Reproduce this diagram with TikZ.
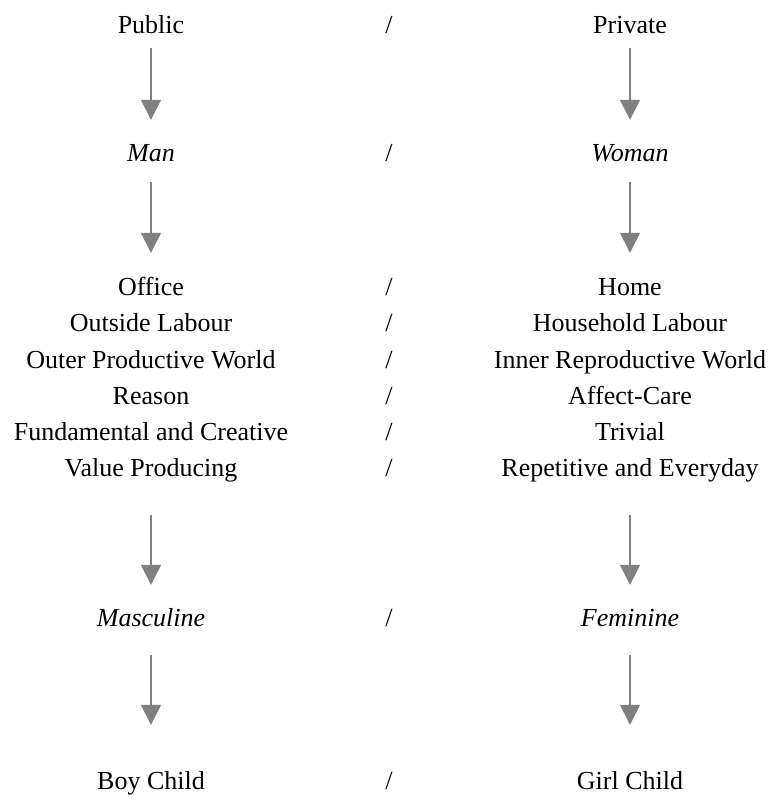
\documentclass[tikz,border=0pt]{standalone}
\usepackage{fontspec}
\setmainfont{Liberation Serif}
\usetikzlibrary{arrows.meta}
\begin{document}
\begin{tikzpicture}[x=1pt,y=-1pt,
  lbl/.style={inner sep=0pt,anchor=base,font=\fontsize{26}{30}\selectfont,text height=18pt,text depth=6pt},
  arr/.style={draw=arrgray,line width=1.4pt,-{Triangle[width=20pt,length=20pt]},fill=arrgray}]
\definecolor{arrgray}{HTML}{808080}
\useasboundingbox (0,0) rectangle (774,806);
\def\xl{151}\def\xm{389}\def\xr{630}
% rows
\foreach \y/\a/\b/\n in {33/Public/Private/r1,
  295/Office/Home/r3,
  331/Outside Labour/Household Labour/r4,
  368/Outer Productive World/Inner Reproductive World/r5,
  404/Reason/Affect-Care/r6,
  440/Fundamental and Creative/Trivial/r7,
  476/Value Producing/Repetitive and Everyday/r8,
  789/Boy Child/Girl Child/r10}{
  \node[lbl] (\n l) at (\xl,\y) {\a};
  \node[lbl] (\n m) at (\xm,\y) {/};
  \node[lbl] (\n r) at (\xr,\y) {\b};
}
\foreach \y/\a/\b/\n in {161/Man/Woman/r2, 626/Masculine/Feminine/r9}{
  \node[lbl] (\n l) at (\xl,\y) {\itshape \a};
  \node[lbl] (\n m) at (\xm,\y) {/};
  \node[lbl] (\n r) at (\xr,\y) {\itshape \b};
}
\foreach \s in {l,r}{
  \draw[arr,shorten <=9pt,shorten >=23pt] (r1\s.south) -- (r2\s.north);
  \draw[arr,shorten <=15pt,shorten >=24pt] (r2\s.south) -- (r3\s.north);
  \draw[arr,shorten <=33pt,shorten >=23pt] (r8\s.south) -- (r9\s.north);
  \draw[arr,shorten <=23pt,shorten >=46pt] (r9\s.south) -- (r10\s.north);
}
\end{tikzpicture}
\end{document}
